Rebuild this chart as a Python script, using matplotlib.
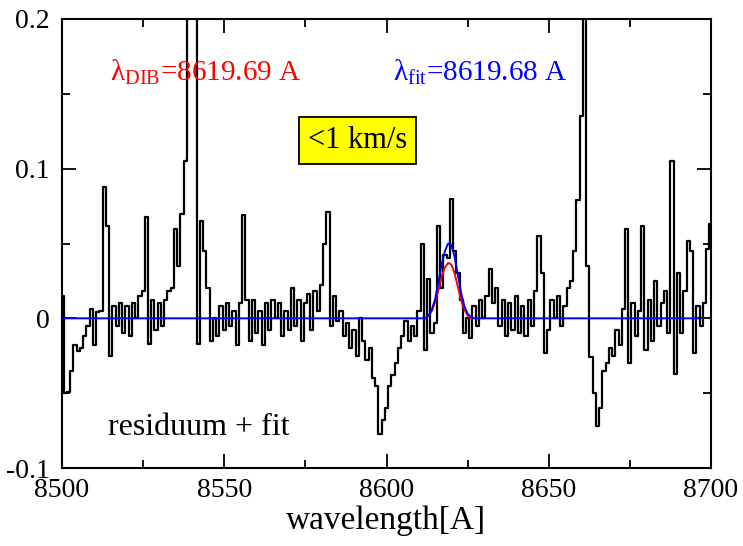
import numpy as np
import matplotlib
matplotlib.use("Agg")
import matplotlib.pyplot as plt
from matplotlib.ticker import MultipleLocator

plt.rcParams['font.family'] = ['Liberation Serif', 'DejaVu Serif']
plt.rcParams['mathtext.fontset'] = 'custom'
plt.rcParams['mathtext.rm'] = 'Liberation Serif'
plt.rcParams['mathtext.it'] = 'Liberation Serif:italic'

# residual spectrum, 1 A grid from 8500 to 8700
wave_start = 8500
residuum = [
    0.015, -0.05, -0.049, -0.035, -0.018, -0.022, -0.02, -0.012, -0.005, 0.006,
    -0.018, 0.004, 0.005, 0.088, 0.062, -0.025, 0.008, -0.005, 0.01, -0.01,
    0.008, -0.012, 0.01, 0.0, 0.015, 0.018, 0.068, -0.017, 0.012, -0.008,
    0.01, -0.005, 0.012, 0.018, 0.02, 0.06, 0.035, 0.07, 0.105, 0.25,
    0.3, 0.22, -0.017, 0.065, 0.045, 0.02, -0.015, 0.0, -0.012, 0.008,
    -0.008, 0.01, -0.005, 0.005, -0.018, 0.01, 0.069, 0.012, -0.015, 0.012,
    -0.01, 0.005, -0.018, 0.01, -0.008, 0.012, 0.0, 0.01, -0.012, 0.005,
    -0.008, 0.02, -0.005, 0.012, -0.015, 0.01, 0.016, -0.008, 0.018, 0.005,
    0.022, 0.05, 0.071, -0.005, 0.015, -0.002, 0.005, -0.012, -0.003, -0.02,
    -0.008, -0.025, 0.0, -0.015, -0.028, -0.02, -0.04, -0.045, -0.077, -0.068,
    -0.06, -0.045, -0.038, -0.03, -0.02, -0.012, -0.002, -0.015, -0.005, -0.012,
    0.005, 0.05, -0.021, 0.026, -0.01, -0.003, 0.062, 0.02, 0.042, 0.04,
    0.08, 0.045, 0.03, 0.012, -0.01, 0.0, -0.013, 0.008, -0.005, 0.012,
    0.0, 0.015, 0.033, 0.01, 0.02, -0.005, 0.012, -0.012, 0.01, -0.008,
    0.015, -0.01, 0.008, -0.012, 0.012, -0.005, 0.018, 0.055, 0.03, -0.023,
    -0.008, 0.012, 0.0, 0.015, -0.005, 0.008, 0.02, 0.025, 0.045, 0.079,
    0.135, 0.3, 0.035, -0.026, -0.05, -0.072, -0.06, -0.035, -0.03, -0.02,
    -0.025, -0.008, -0.018, 0.006, 0.06, -0.03, 0.01, -0.012, 0.005, 0.062,
    -0.021, 0.012, -0.015, 0.025, -0.005, 0.01, 0.018, -0.01, 0.105, -0.037,
    0.03, -0.01, 0.018, 0.052, 0.045, -0.023, 0.008, -0.005, 0.01, 0.046, 0.063,
]
wave = wave_start + np.arange(len(residuum))

# blue fit (baseline + gaussian)
fit_wave = [8500, 8612, 8613, 8614, 8615, 8616, 8617, 8618, 8619, 8620,
            8621, 8622, 8623, 8624, 8625, 8626, 8627, 8696]
fit_vals = [0.0, 0.0, 0.002, 0.006, 0.013, 0.024, 0.036, 0.045, 0.050, 0.049,
            0.041, 0.029, 0.017, 0.008, 0.003, 0.001, 0.0, 0.0]

# red DIB profile
dib_wave = [8612, 8613, 8614, 8615, 8616, 8617, 8618, 8619, 8620,
            8621, 8622, 8623, 8624, 8625, 8626]
dib_vals = [0.0, 0.002, 0.005, 0.011, 0.019, 0.028, 0.034, 0.037, 0.036,
            0.030, 0.021, 0.012, 0.006, 0.002, 0.0]

xticks = [8500, 8550, 8600, 8650, 8700]
yticks = [-0.1, 0, 0.1, 0.2]
ytick_labels = ['-0.1', '0', '0.1', '0.2']

fig = plt.figure(figsize=(7.43, 5.46), dpi=100)
ax = fig.add_axes([62/743, 78/546, 649/743, 449/546])

ax.plot(wave, residuum, color='black', lw=1.6, drawstyle='steps-mid', zorder=2)
ax.plot(dib_wave, dib_vals, color='red', lw=1.4, zorder=3)
ax.plot(fit_wave, fit_vals, color='blue', lw=1.4, zorder=4)

ax.set_xlim(8500, 8700)
ax.set_ylim(-0.1, 0.2)
ax.set_xticks(xticks)
ax.set_yticks(yticks)
ax.set_yticklabels(ytick_labels)
ax.xaxis.set_minor_locator(MultipleLocator(25))
ax.yaxis.set_minor_locator(MultipleLocator(0.05))
ax.tick_params(which='both', direction='in', top=True, right=True, width=1.3,
               labelsize=20)
ax.tick_params(which='major', length=10)
ax.tick_params(which='minor', length=6)
ax.tick_params(axis='x', pad=7)
ax.tick_params(axis='y', pad=9)
for s in ax.spines.values():
    s.set_linewidth(1.5)

ax.set_xlabel('wavelength[A]', fontsize=24, labelpad=2)

ax.text(8514.8, 0.159, r'λ$_{\mathrm{DIB}}$=8619.69 A', color='red',
        fontsize=21, va='baseline', ha='left')
ax.text(8602, 0.159, r'λ$_{\mathrm{fit}}$=8619.68 A', color='blue',
        fontsize=21, va='baseline', ha='left')
ax.text(8591, 0.119, '<1 km/s', color='black', fontsize=22,
        va='center', ha='center',
        bbox=dict(boxstyle='square,pad=0.3', facecolor='yellow',
                  edgecolor='black', linewidth=1.3))
ax.text(8514.2, -0.078, 'residuum + fit', color='black', fontsize=23,
        va='baseline', ha='left')

fig.savefig('out.png', dpi=100)
